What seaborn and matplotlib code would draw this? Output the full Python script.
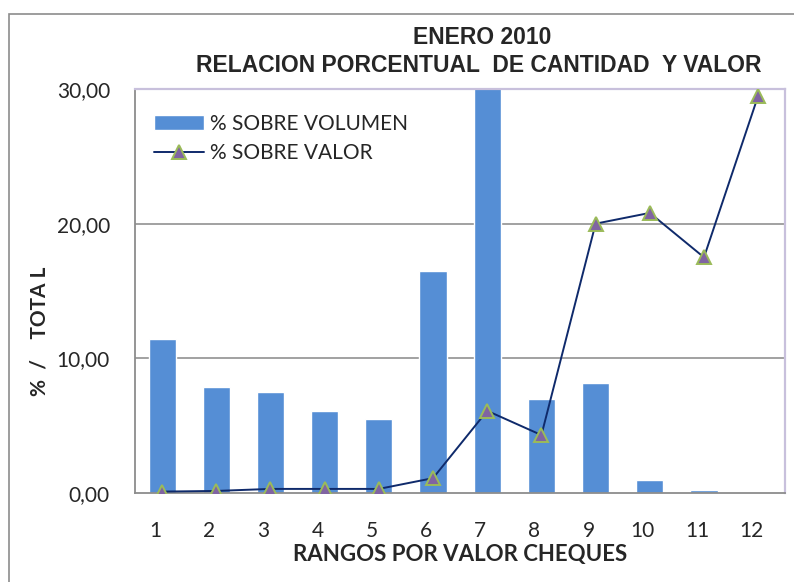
import pandas as pd
import numpy as np
import matplotlib.pyplot as plt
import seaborn as sns
from matplotlib.patches import Rectangle
from matplotlib.ticker import FuncFormatter, FixedLocator
from matplotlib.transforms import ScaledTranslation

# Datos
rangos = [1, 2, 3, 4, 5, 6, 7, 8, 9, 10, 11, 12]
pct_volumen = [11.4, 7.9, 7.5, 6.1, 5.5, 16.5, 31.0, 7.0, 8.2, 0.95, 0.25, 0.0]
pct_valor = [0.1, 0.15, 0.3, 0.3, 0.3, 1.1, 6.1, 4.3, 20.0, 20.8, 17.5, 29.5]
y_ticks = [0, 10, 20, 30]

df = pd.DataFrame({"rango": rangos, "volumen": pct_volumen, "valor": pct_valor})

sns.set_style("white")
plt.rcParams['font.family'] = ['Lato', 'DejaVu Sans']

fig = plt.figure(figsize=(7.94, 5.82), dpi=100)
ax = fig.add_axes([0.170, 0.153, 0.819, 0.694])

# Marco exterior del grafico
fig.patches.append(Rectangle((9 / 794, -0.1), 1.2, 1 - 14 / 582 + 0.1, transform=fig.transFigure,
                             fill=False, edgecolor="#8c8c8c", linewidth=1.2))

sns.barplot(data=df, x="rango", y="volumen", native_scale=True, width=0.5,
            color="#558ED5", saturation=1, ax=ax, label="% SOBRE VOLUMEN", zorder=2)
sns.lineplot(data=df, x="rango", y="valor", ax=ax, color="#0F2A6B", linewidth=1.4,
             marker="^", markersize=10, markerfacecolor="#8064A2", markeredgecolor="#9BBB59",
             markeredgewidth=1.4, label="% SOBRE VALOR", zorder=3)

ax.set_xlim(0.5, 12.5)
ax.set_ylim(0, 30)

# Grilla y ejes
ax.yaxis.set_major_locator(FixedLocator(y_ticks))
ax.yaxis.set_major_formatter(FuncFormatter(lambda v, p: f"{v:.2f}".replace(".", ",")))
for v in [10, 20]:
    ax.axhline(v, color="#9a9a9a", linewidth=1.3, zorder=1)
for side in ["left", "bottom"]:
    ax.spines[side].set_color("#8c8c8c")
    ax.spines[side].set_linewidth(1.3)
for side in ["top", "right"]:
    ax.spines[side].set_color("#c8c0dc")
    ax.spines[side].set_linewidth(1.6)

ax.set_xticks(rangos)
ax.set_xticklabels([str(r) for r in rangos])
ax.set_xticks(np.arange(0.5, 13, 1), minor=True)
ax.tick_params(axis="x", which="major", length=0, labelsize=15, pad=20)
ax.tick_params(axis="x", which="minor", length=10, direction="inout", color="#8c8c8c", width=1.3)
ax.tick_params(axis="y", length=8, direction="inout", color="#8c8c8c", width=1.3, labelsize=15, pad=14)
shift = ScaledTranslation(-7 / 100, 0, fig.dpi_scale_trans)
for lab in ax.get_xticklabels():
    lab.set_transform(lab.get_transform() + shift)

ax.set_xlabel("RANGOS POR VALOR CHEQUES", fontsize=16, fontweight="bold", labelpad=2)
ax.set_ylabel("")
fig.text(0.050, 0.43, "%  /    TOTA L", rotation=90, fontsize=15, fontweight="bold",
         ha="center", va="center")

title_font = ["Liberation Sans Narrow", "Liberation Sans", "DejaVu Sans"]
fig.text(0.607, 0.935, "ENERO 2010", fontsize=16.5, fontweight="bold", ha="center", va="center",
         family=title_font)
fig.text(0.603, 0.887, "RELACION PORCENTUAL  DE CANTIDAD  Y VALOR", fontsize=16.5, fontweight="bold",
         ha="center", va="center", family=title_font)

handles, labels = ax.get_legend_handles_labels()
order = [labels.index("% SOBRE VOLUMEN"), labels.index("% SOBRE VALOR")]
ax.legend([handles[i] for i in order], [labels[i] for i in order], loc="upper left",
          bbox_to_anchor=(0.0, 0.985), frameon=False, fontsize=15,
          handlelength=2.4, handletextpad=0.3, labelspacing=0.45)

fig.savefig("out.png", dpi=100)
